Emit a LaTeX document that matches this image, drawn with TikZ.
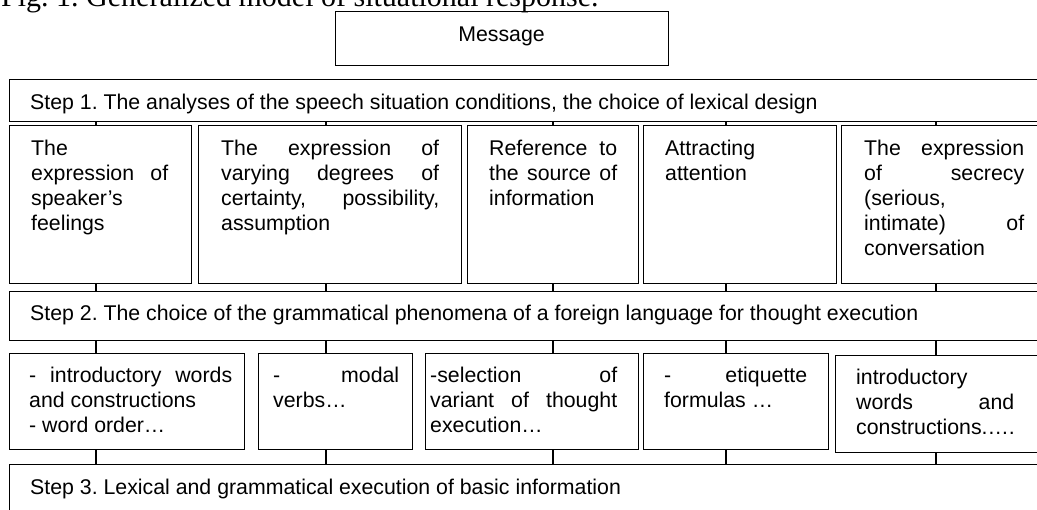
\documentclass[tikz,border=0pt]{standalone}
\usepackage{fontspec}
\setmainfont{Liberation Sans}
\newfontfamily\titlefont{Liberation Serif}
\frenchspacing
\newcommand{\jbox}[2]{\parbox[t]{#1}{\tolerance=10000\hbadness=10000\hyphenpenalty=10000\exhyphenpenalty=10000 #2}}
\begin{document}
\begin{tikzpicture}[x=1pt,y=-1pt,
  font=\fontsize{21.3}{25}\selectfont,
  box/.style={draw, line width=1.3pt, inner sep=0pt, anchor=north west},
  txt/.style={anchor=base west, inner sep=0pt},
  conn/.style={line width=1.3pt}]
\useasboundingbox (0,0) rectangle (1037,510);
% title (cut at top, as in the reference)
\node[txt, font=\titlefont\fontsize{30}{34}\selectfont] (title) at (1,7) {Fig. 1. Generalized model of situational response.};
% message
\node[box, minimum width=333pt, minimum height=54pt] (msg) at (335,11) {};
\node[anchor=base, inner sep=0pt] (msgt) at (501.5,42) {Message};
% step boxes
\node[box, minimum width=1036pt, minimum height=42pt] (s1) at (9,79) {};
\node[txt] (s1t) at (30,110) {Step 1. The analyses of the speech situation conditions, the choice of lexical design};
\node[box, minimum width=1036pt, minimum height=49pt] (s2) at (9,291) {};
\node[txt] (s2t) at (30,321) {Step 2. The choice of the grammatical phenomena of a foreign language for thought execution};
\node[box, minimum width=1036pt, minimum height=66pt] (s3) at (9,464) {};
\node[txt] (s3t) at (30,495) {Step 3. Lexical and grammatical execution of basic information};
% feature boxes
\node[box, minimum width=182pt, minimum height=158pt] (f1) at (9,125) {};
\node[box, minimum width=263pt, minimum height=158pt] (f2) at (198,125) {};
\node[box, minimum width=171pt, minimum height=158pt] (f3) at (467,125) {};
\node[box, minimum width=193pt, minimum height=158pt] (f4) at (643,125) {};
\node[box, minimum width=205pt, minimum height=158pt] (f5) at (841,125) {};
\node[txt] (f1t) at (31,156) {\jbox{137pt}{The\linebreak expression of\linebreak speaker’s\linebreak feelings}};
\node[txt] (f2t) at (221,156) {\jbox{218pt}{The expression of\linebreak varying degrees of\linebreak certainty, possibility,\linebreak assumption}};
\node[txt] (f3t) at (489,156) {\jbox{128pt}{Reference to\linebreak the source of\linebreak information}};
\node[txt] (f4t) at (665,156) {\jbox{149pt}{Attracting\linebreak attention}};
\node[txt] (f5t) at (864,156) {\jbox{160pt}{The expression\linebreak of secrecy\linebreak (serious,\linebreak intimate) of\linebreak conversation}};
% grammar boxes
\node[box, minimum width=235pt, minimum height=96pt] (g1) at (9,353) {};
\node[box, minimum width=154pt, minimum height=96pt] (g2) at (258,353) {};
\node[box, minimum width=213pt, minimum height=96pt] (g3) at (425,353) {};
\node[box, minimum width=185pt, minimum height=96pt] (g4) at (643,353) {};
\node[box, minimum width=210pt, minimum height=97pt] (g5) at (835,355) {};
\node[txt] (g1t) at (29,383) {\jbox{203pt}{- introductory words\linebreak and constructions\par - word order…}};
\node[txt] (g2t) at (273,383) {\jbox{126pt}{- modal\linebreak verbs…}};
\node[txt] (g3t) at (430,383) {\jbox{187pt}{-selection of\linebreak variant of thought\linebreak execution…}};
\node[txt] (g4t) at (664,383) {\jbox{143pt}{- etiquette\linebreak formulas …}};
\node[txt] (g5t) at (856,385) {\jbox{158pt}{introductory\linebreak words and\linebreak constructions.….}};
% connector x positions
\coordinate (c1) at (96,0);
\coordinate (c2) at (326,0);
\coordinate (c3) at (553,0);
\coordinate (c4) at (726,0);
\coordinate (c5) at (936,0);
\foreach \c/\f/\g in {c1/f1/g1, c2/f2/g2, c3/f3/g3, c4/f4/g4, c5/f5/g5} {
  \draw[conn] (s1.south -| \c) -- (\f.north -| \c);
  \draw[conn] (\f.south -| \c) -- (s2.north -| \c);
  \draw[conn] (s2.south -| \c) -- (\g.north -| \c);
  \draw[conn] (\g.south -| \c) -- (s3.north -| \c);
}
\end{tikzpicture}
\end{document}
